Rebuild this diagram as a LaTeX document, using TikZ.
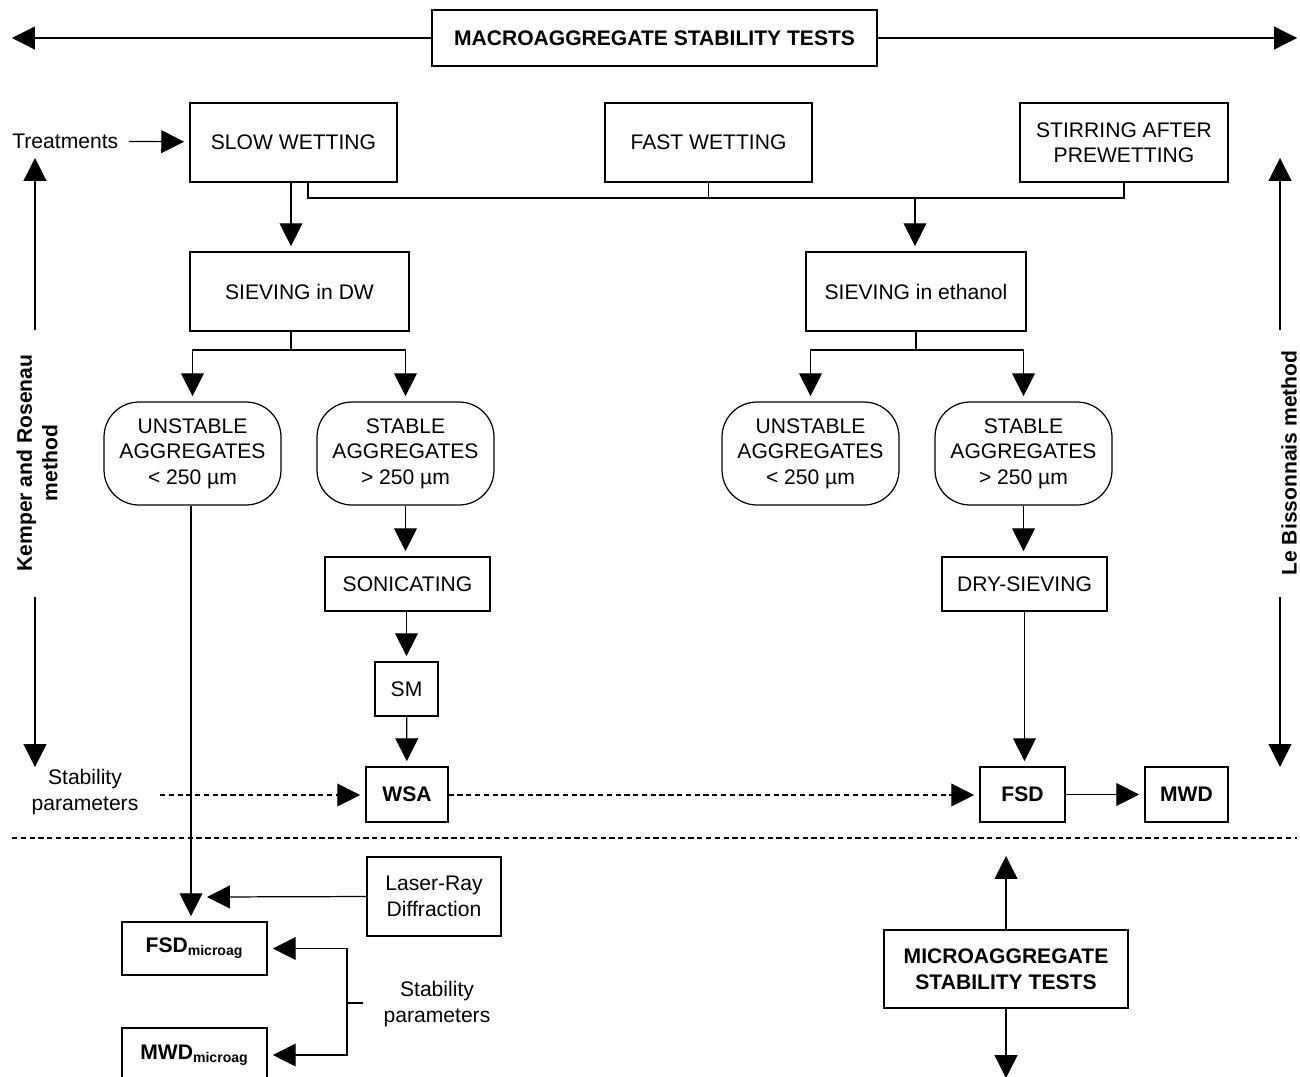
\documentclass[tikz,border=0pt]{standalone}
\usepackage{fontspec}
\setmainfont{Liberation Sans}
\usetikzlibrary{arrows.meta, positioning, calc}

\begin{document}
\begin{tikzpicture}[
    x=0.02cm, y=-0.02cm,
    box/.style={draw, line width=0.7pt, align=center, inner sep=0pt,
      font=\fontsize{12}{14.5}\selectfont},
    agg/.style={box, rounded corners=0.7cm, minimum width=3.54cm, minimum height=2.06cm},
    txt/.style={align=center, inner sep=0pt, font=\fontsize{12}{14.5}\selectfont},
    vlabel/.style={txt, rotate=90, font=\fontsize{12}{14.5}\selectfont\bfseries},
    arr/.style={-{Triangle[length=13pt, width=13pt]}, line width=0.7pt},
    dsh/.style={arr, dash pattern=on 3pt off 2pt},
    line/.style={line width=0.7pt},
  ]
  \useasboundingbox (0,0) rectangle (1300,1076);

  % macroaggregate part
  \node[box, minimum width=8.9cm, minimum height=1.12cm, font=\fontsize{12}{14.5}\selectfont\bfseries] (macro) at (654.5,38) {MACROAGGREGATE STABILITY TESTS};
  \coordinate (mleft) at (12,38);
  \coordinate (mright) at (1297,38);
  \draw[arr] (macro.west) -- (mleft);
  \draw[arr] (macro.east) -- (mright);

  % treatments
  \node[box, minimum width=4.14cm, minimum height=1.58cm] (slow) at (293.5,142.5) {SLOW WETTING};
  \node[box, minimum width=4.14cm, minimum height=1.58cm] (fast) at (708.5,142.5) {FAST WETTING};
  \node[box, minimum width=4.16cm, minimum height=1.58cm] (stir) at (1124,142.5) {STIRRING AFTER\\PREWETTING};
  \node[txt, anchor=west] (treat) at (12,141) {Treatments};
  \draw[arr, shorten <=6pt, shorten >=3pt] (treat) -- (slow);

  % sieving
  \node[box, minimum width=4.38cm, minimum height=1.58cm] (sievdw) at (299.5,291.5) {SIEVING in DW};
  \node[box, minimum width=4.4cm, minimum height=1.58cm] (sieveth) at (916,291.5) {SIEVING in ethanol};
  \draw[arr, shorten >=3pt] (slow.south -| 291,0) -- (sievdw.north -| 291,0);
  \draw[line] (slow.south -| 308,0) |- (stir.south |- 0,198) -- (stir.south);
  \draw[line] (fast.south) -- (fast.south |- 0,198);
  \coordinate (bus) at (915,198);
  \draw[arr, shorten >=3pt] (bus) -- (sieveth.north -| bus);

  % aggregates
  \node[agg] (unstL) at (192.5,453.5) {UNSTABLE\\AGGREGATES\\{\textless} 250 µm};
  \node[agg] (stabL) at (405.5,453.5) {STABLE\\AGGREGATES\\{\textgreater} 250 µm};
  \node[agg] (unstR) at (810.5,453.5) {UNSTABLE\\AGGREGATES\\{\textless} 250 µm};
  \node[agg] (stabR) at (1023.5,453.5) {STABLE\\AGGREGATES\\{\textgreater} 250 µm};
  \coordinate (jL) at (291,350);
  \coordinate (jR) at (916,350);
  \draw[line] (sievdw.south -| jL) -- (jL);
  \draw[arr, shorten >=3pt] (jL) -| (unstL.north);
  \draw[arr, shorten >=3pt] (jL) -| (stabL.north);
  \draw[line] (sieveth.south -| jR) -- (jR);
  \draw[arr, shorten >=3pt] (jR) -| (unstR.north);
  \draw[arr, shorten >=3pt] (jR) -| (stabR.north);

  % left branch
  \node[box, minimum width=3.3cm, minimum height=1.08cm] (sonic) at (407.5,584) {SONICATING};
  \node[box, minimum width=1.26cm, minimum height=1.08cm] (sm) at (406.5,689) {SM};
  \node[box, minimum width=1.64cm, minimum height=1.1cm, font=\fontsize{12}{14.5}\selectfont\bfseries] (wsa) at (407,794.5) {WSA};
  \draw[arr, shorten >=3pt] (stabL.south) -- (stabL.south |- sonic.north);
  \draw[arr, shorten >=3pt] (sonic.south -| sm) -- (sm.north);
  \draw[arr, shorten >=3pt] (sm) -- (wsa);

  % right branch
  \node[box, minimum width=3.3cm, minimum height=1.08cm] (dry) at (1024.5,584) {DRY-SIEVING};
  \node[box, minimum width=1.7cm, minimum height=1.1cm, font=\fontsize{12}{14.5}\selectfont\bfseries] (fsd) at (1022.5,794.5) {FSD};
  \node[box, minimum width=1.66cm, minimum height=1.1cm, font=\fontsize{12}{14.5}\selectfont\bfseries] (mwd) at (1186.5,794.5) {MWD};
  \draw[arr, shorten >=3pt] (stabR.south) -- (stabR.south |- dry.north);
  \draw[arr, shorten >=3pt] (dry.south) -- (dry.south |- fsd.north);
  \draw[arr, shorten >=3pt] (fsd) -- (mwd);

  % stability parameters
  \node[txt] (stabpar) at (85,792) {Stability\\parameters};
  \coordinate (dstart) at (160,795);
  \draw[dsh, shorten >=3pt] (dstart) -- (wsa.west |- dstart);
  \draw[dsh, shorten >=3pt] (wsa.east |- dstart) -- (fsd.west |- dstart);
  \coordinate (sepL) at (12,838);
  \coordinate (sepR) at (1297,838);
  \draw[line, dash pattern=on 3pt off 2pt] (sepL) -- (sepR);

  % method labels
  \node[vlabel] (kemper) at (37,463) {Kemper and Rosenau\\method};
  \coordinate (kup) at (35,158);
  \coordinate (kdown) at (35,767);
  \draw[arr] (35,330) -- (kup);
  \draw[arr] (35,597) -- (kdown);
  \node[vlabel] (lebis) at (1289,463) {Le Bissonnais method};
  \coordinate (lup) at (1280,158);
  \coordinate (ldown) at (1280,767);
  \draw[arr] (1280,330) -- (lup);
  \draw[arr] (1280,597) -- (ldown);

  % microaggregate part
  \node[box, minimum width=2.68cm, minimum height=1.58cm] (laser) at (434,896.5) {Laser-Ray\\Diffraction};
  \node[box, minimum width=2.9cm, minimum height=1.06cm, font=\fontsize{12}{14.5}\selectfont\bfseries] (fsdm) at (194.5,948.5) {FSD\textsubscript{microag}};
  \node[box, minimum width=2.9cm, minimum height=1.08cm, font=\fontsize{12}{14.5}\selectfont\bfseries] (mwdm) at (194.5,1055) {MWD\textsubscript{microag}};
  \draw[arr, shorten >=3pt] (unstL.south -| 191,0) -- (fsdm.north -| 191,0);
  \coordinate (ltip) at (207,897);
  \draw[arr] (laser.west) -- (ltip);
  \node[txt] (stabpar2) at (437,1004) {Stability\\parameters};
  \coordinate (brin) at (363,1003);
  \coordinate (br) at (347,1003);
  \draw[line] (brin) -- (br);
  \draw[arr, shorten >=3pt] (br) |- (fsdm.east);
  \draw[arr, shorten >=3pt] (br) |- (mwdm.east);

  \node[box, minimum width=4.88cm, minimum height=1.56cm, font=\fontsize{12}{14.5}\selectfont\bfseries] (micro) at (1006,969) {MICROAGGREGATE\\STABILITY TESTS};
  \coordinate (mup) at (1006,856);
  \coordinate (mdown) at (1006,1078);
  \draw[arr] (micro.north) -- (mup);
  \draw[arr] (micro.south) -- (mdown);
\end{tikzpicture}
\end{document}
